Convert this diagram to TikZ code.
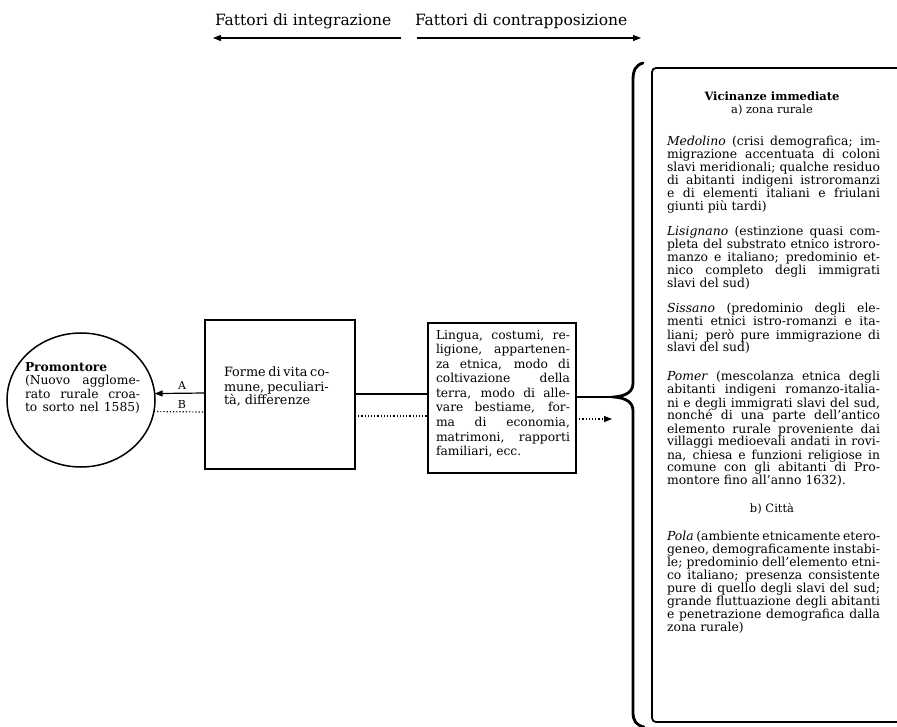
\documentclass[tikz,border=0pt]{standalone}
\usepackage{fontspec}
\setmainfont{DejaVu Serif}
\usetikzlibrary{arrows.meta,shapes.geometric}
\newcommand{\jl}[1]{\makebox[\linewidth][s]{#1}\par}
\newcommand{\lastl}[1]{#1\par}
\begin{document}
\begin{tikzpicture}[x=1pt,y=-1pt,
  every node/.style={inner sep=0pt, outer sep=0pt},
  txt/.style={anchor=base west, font=\fontsize{12.4}{13}\selectfont},
  boxline/.style={draw, line width=1.6pt},
  conn/.style={line width=1.2pt},
  dotconn/.style={line width=1.2pt, dotted},
  tip/.style={-{Triangle[length=8pt,width=6pt]}}
]
\useasboundingbox (0,0) rectangle (897,727);

% ---- top labels and arrows
\node[anchor=base west, font=\fontsize{15.5}{17}\selectfont] (fi) at (215,26) {Fattori di integrazione};
\node[anchor=base west, font=\fontsize{15.5}{17}\selectfont] (fc) at (415,26) {Fattori di contrapposizione};
\coordinate (fiL) at (213,38); \coordinate (fiR) at (401,38);
\coordinate (fcL) at (417,38); \coordinate (fcR) at (641,38);
\draw[conn, tip] (fiR) -- (fiL);
\draw[conn, tip] (fcL) -- (fcR);

% ---- Promontore
\node[draw, ellipse, line width=1.5pt, minimum width=148pt, minimum height=134pt] (prom) at (81,400) {};
\node[txt, font=\fontsize{12.3}{13.5}\selectfont] (promt) at (25,371) {\parbox[t]{115pt}{\lineskiplimit=-20pt
\textbf{Promontore}\par
\jl{(Nuovo agglome-}\jl{rato rurale croa-}\jl{to sorto nel 1585)}}};

% ---- Forme box
\node[boxline, anchor=north west, minimum width=150pt, minimum height=149pt] (forme) at (205,320) {};
\node[txt, font=\fontsize{12.8}{14}\selectfont] (formet) at (224,377) {\parbox[t]{104pt}{\lineskiplimit=-20pt
\jl{Forme di vita co-}\jl{mune, peculiari-}\lastl{tà, differenze}}};

% ---- Lingua box
\node[boxline, line width=1.8pt, anchor=north west, minimum width=148pt, minimum height=150pt] (lingua) at (428,323) {};
\node[txt, font=\fontsize{12.3}{14.6}\selectfont] (linguat) at (436,339) {\parbox[t]{134pt}{\lineskiplimit=-20pt
\jl{Lingua, costumi, re-}\jl{ligione, appartenen-}\jl{za etnica, modo di}\jl{coltivazione della}\jl{terra, modo di alle-}\jl{vare bestiame, for-}\jl{ma di economia,}\jl{matrimoni, rapporti}\lastl{familiari, ecc.}}};

% ---- connectors
\coordinate (yA) at (0,393); \coordinate (yB) at (0,412);
\coordinate (yM1) at (0,394); \coordinate (yM2) at (0,416);
\coordinate (btip) at (614,397); \coordinate (barr) at (612,419);
\draw[conn, tip] (forme.west |- yA) -- (prom.5);
\draw[dotconn] (prom.-9) -- (forme.west |- yB);
\node[anchor=base, font=\fontsize{11}{12}\selectfont] (la) at (182,389) {A};
\node[anchor=base, font=\fontsize{11}{12}\selectfont] (lb) at (182,408) {B};
\draw[conn] (forme.east |- yM1) -- (lingua.west |- yM1);
\draw[dotconn] (forme.east |- yM2) -- (lingua.west |- yM2);
\draw[conn] (lingua.east |- btip) -- (btip);
\draw[dotconn, tip] (lingua.east |- barr) -- (barr);

% ---- brace
\draw[line width=2.8pt, line cap=round]
  (643,63) .. controls (636,65) and (633,70) .. (633,80)
  -- (633,383) .. controls (633,392) and (626,396) .. (btip)
  .. controls (626,398) and (633,402) .. (633,411)
  -- (633,712) .. controls (633,721) and (636,725) .. (644,727);

% ---- big box (its right side lies outside the picture)
\coordinate (vicTL) at (652,68);
\coordinate (vicBL) at (652,722);
\draw[line width=1.8pt, rounded corners=4pt] (905,68) -- (vicTL) -- (vicBL) -- (905,722);
\node[anchor=base, font=\fontsize{11.5}{13}\selectfont\bfseries] (vt) at (772,101) {Vicinanze immediate};
\node[anchor=base, font=\fontsize{11.5}{13}\selectfont] (vz) at (772,114) {a) zona rurale};

\node[txt] (med) at (667,146) {\parbox[t]{213pt}{\lineskiplimit=-20pt
\jl{\textit{Medolino} (crisi demografica; im-}
\jl{migrazione accentuata di coloni}
\jl{slavi meridionali; qualche residuo}
\jl{di abitanti indigeni istroromanzi}
\jl{e di elementi italiani e friulani}
\lastl{giunti più tardi)}}};

\node[txt] (lis) at (667,236) {\parbox[t]{213pt}{\lineskiplimit=-20pt
\jl{\textit{Lisignano} (estinzione quasi com-}
\jl{pleta del substrato etnico istroro-}
\jl{manzo e italiano; predominio et-}
\jl{nico completo degli immigrati}
\lastl{slavi del sud)}}};

\node[txt] (sis) at (667,313) {\parbox[t]{213pt}{\lineskiplimit=-20pt
\jl{\textit{Sissano} (predominio degli ele-}
\jl{menti etnici istro-romanzi e ita-}
\jl{liani; però pure immigrazione di}
\lastl{slavi del sud)}}};

\node[txt] (pom) at (667,381) {\parbox[t]{213pt}{\lineskiplimit=-20pt
\jl{\textit{Pomer} (mescolanza etnica degli}
\jl{abitanti indigeni romanzo-italia-}
\jl{ni e degli immigrati slavi del sud,}
\jl{nonché di una parte dell'antico}
\jl{elemento rurale proveniente dai}
\jl{villaggi medioevali andati in rovi-}
\jl{na, chiesa e funzioni religiose in}
\jl{comune con gli abitanti di Pro-}
\lastl{montore fino all'anno 1632).}}};

\node[anchor=base, font=\fontsize{11.5}{13}\selectfont] (citta) at (772,512) {b) Città};

\node[txt] (pola) at (667,540) {\parbox[t]{213pt}{\lineskiplimit=-20pt
\jl{\textit{Pola} (ambiente etnicamente etero-}
\jl{geneo, demograficamente instabi-}
\jl{le; predominio dell'elemento etni-}
\jl{co italiano; presenza consistente}
\jl{pure di quello degli slavi del sud;}
\jl{grande fluttuazione degli abitanti}
\jl{e penetrazione demografica dalla}
\lastl{zona rurale)}}};
\end{tikzpicture}
\end{document}
